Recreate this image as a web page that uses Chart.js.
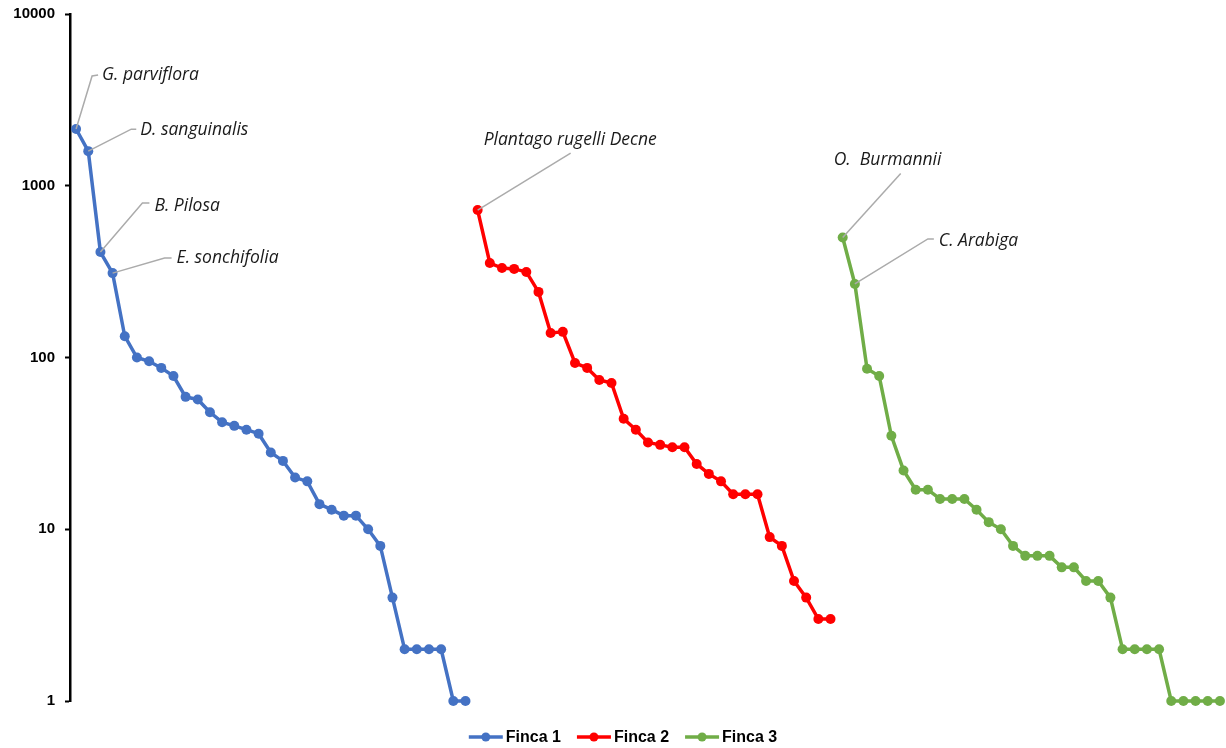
<!DOCTYPE html>
<html>
<head>
<meta charset="utf-8">
<style>
  html, body { margin: 0; padding: 0; background: #ffffff; }
  #wrap { width: 1226px; height: 748px; position: relative; }
</style>
<script src="https://cdn.jsdelivr.net/npm/chart.js@4/dist/chart.umd.min.js"></script>
</head>
<body>
<div id="wrap"><canvas id="chart" width="1226" height="748"></canvas></div>
<script>
// Rank-abundance values per farm (number of individuals per species, ranked)
const finca1 = [2140, 1590, 411, 310, 133, 100, 95, 87, 78, 59, 57, 48, 42, 40, 38, 36,
                28, 25, 20, 19, 14, 13, 12, 12, 10, 8, 4, 2, 2, 2, 2, 1, 1];
const finca2 = [722, 355, 332, 328, 315, 241, 139, 141, 93, 87, 74, 71, 44, 38, 32, 31,
                30, 30, 24, 21, 19, 16, 16, 16, 9, 8, 5, 4, 3, 3];
const finca3 = [500, 268, 86, 78, 35, 22, 17, 17, 15, 15, 15, 13, 11, 10, 8, 7, 7, 7,
                6, 6, 5, 5, 4, 2, 2, 2, 2, 1, 1, 1, 1, 1];

const seriesNames = ['Finca 1', 'Finca 2', 'Finca 3'];
const seriesColors = ['#4472C4', '#FF0000', '#70AD47'];
const yTicks = [1, 10, 100, 1000, 10000];

// Named species: [series index, rank within series, label]
const speciesSeries = [0, 0, 0, 0, 1, 2, 2];
const speciesRank = [0, 1, 2, 3, 0, 0, 1];
const speciesNames = ['G. parviflora', 'D. sanguinalis', 'B. Pilosa', 'E. sonchifolia',
                      'Plantago rugelli Decne', 'O.  Burmannii', 'C. Arabiga'];

// All three farms share one ranked category axis, placed one after another
const allSeries = [finca1, finca2, finca3];
const total = finca1.length + finca2.length + finca3.length;
const categories = Array.from({ length: total }, (_, i) => String(i + 1));
const starts = [0, finca1.length, finca1.length + finca2.length];

function padded(values, start) {
  const arr = new Array(total).fill(null);
  values.forEach((v, i) => { arr[start + i] = v; });
  return arr;
}

// Callout geometry for each label: elbow point, end of the short horizontal run,
// and the text anchor (offsets in px from the data point)
const callouts = [
  { elbow: [16, -53], end: [22, -54], text: [26, -54] },
  { elbow: [43, -22], end: [48, -22], text: [52, -21] },
  { elbow: [42, -49], end: [49, -49], text: [54, -46] },
  { elbow: [52, -15], end: [59, -15], text: [64, -15] },
  { elbow: [93, -57], end: [93, -57], text: [6, -70] },
  { elbow: [58, -64], end: [58, -64], text: [-9, -77] },
  { elbow: [73, -45], end: [79, -45], text: [84, -43] }
];

const calloutPlugin = {
  id: 'callouts',
  afterDatasetsDraw(chart) {
    const ctx = chart.ctx;
    const xs = chart.scales.x, ys = chart.scales.y;
    ctx.save();
    speciesNames.forEach((name, k) => {
      const s = speciesSeries[k], r = speciesRank[k];
      const px = xs.getPixelForValue(starts[s] + r);
      const py = ys.getPixelForValue(allSeries[s][r]);
      const c = callouts[k];
      ctx.strokeStyle = '#ABABAB';
      ctx.lineWidth = 1.5;
      ctx.beginPath();
      ctx.moveTo(px, py);
      ctx.lineTo(px + c.elbow[0], py + c.elbow[1]);
      ctx.lineTo(px + c.end[0], py + c.end[1]);
      ctx.stroke();
      ctx.fillStyle = '#1a1a1a';
      ctx.font = 'italic 17.5px "Open Sans", sans-serif';
      ctx.textAlign = 'left';
      ctx.textBaseline = 'middle';
      ctx.fillText(name, px + c.text[0], py + c.text[1]);
    });
    ctx.restore();
  }
};

// Legend drawn as line-with-marker swatches centred under the plot
const legendPlugin = {
  id: 'lineLegend',
  afterDraw(chart) {
    const ctx = chart.ctx;
    ctx.save();
    ctx.font = 'bold 16px "Liberation Sans", sans-serif';
    ctx.textBaseline = 'middle';
    const swatch = 34, gap = 3, itemGap = 16;
    const widths = seriesNames.map(n => swatch + gap + ctx.measureText(n).width);
    const full = widths.reduce((a, b) => a + b, 0) + itemGap * (seriesNames.length - 1);
    let x = (chart.width - full) / 2 + 10;
    const y = 737;
    seriesNames.forEach((n, i) => {
      ctx.strokeStyle = seriesColors[i];
      ctx.fillStyle = seriesColors[i];
      ctx.lineWidth = 3.5;
      ctx.beginPath();
      ctx.moveTo(x, y);
      ctx.lineTo(x + swatch, y);
      ctx.stroke();
      ctx.beginPath();
      ctx.arc(x + swatch / 2, y, 4.5, 0, Math.PI * 2);
      ctx.fill();
      ctx.fillStyle = '#000000';
      ctx.fillText(n, x + swatch + gap, y + 1);
      x += widths[i] + itemGap;
    });
    ctx.restore();
  }
};

new Chart(document.getElementById('chart'), {
  type: 'line',
  data: {
    labels: categories,
    datasets: allSeries.map((vals, i) => ({
      label: seriesNames[i],
      data: padded(vals, starts[i]),
      borderColor: seriesColors[i],
      backgroundColor: seriesColors[i],
      borderWidth: 3.5,
      pointRadius: 5,
      pointBorderWidth: 0,
      pointHoverRadius: 5,
      spanGaps: false,
      tension: 0,
      clip: false
    }))
  },
  options: {
    responsive: false,
    animation: false,
    events: [],
    layout: { autoPadding: false, padding: { top: 14, bottom: 47, left: 0, right: 0 } },
    plugins: {
      legend: { display: false },
      tooltip: { enabled: false }
    },
    scales: {
      x: {
        type: 'category',
        offset: true,
        display: false,
        afterFit(axis) {
          axis.paddingLeft = 0; axis.paddingRight = 0;
          axis.paddingTop = 0; axis.paddingBottom = 0;
        }
      },
      y: {
        type: 'logarithmic',
        min: 1,
        max: 10000,
        afterBuildTicks(axis) { axis.ticks = yTicks.map(v => ({ value: v })); },
        afterFit(axis) {
          axis.width = 70;
          axis.paddingTop = 0; axis.paddingBottom = 0;
          axis.paddingLeft = 0; axis.paddingRight = 0;
        },
        ticks: {
          color: '#000000',
          padding: 10,
          font: { family: '"Liberation Sans", sans-serif', size: 15, weight: 'bold' },
          callback: v => String(v)
        },
        grid: {
          drawOnChartArea: false,
          drawTicks: true,
          tickLength: 5,
          tickWidth: 2,
          tickColor: '#000000'
        },
        border: { display: true, color: '#000000', width: 2.5 }
      }
    }
  },
  plugins: [calloutPlugin, legendPlugin]
});
</script>
</body>
</html>
